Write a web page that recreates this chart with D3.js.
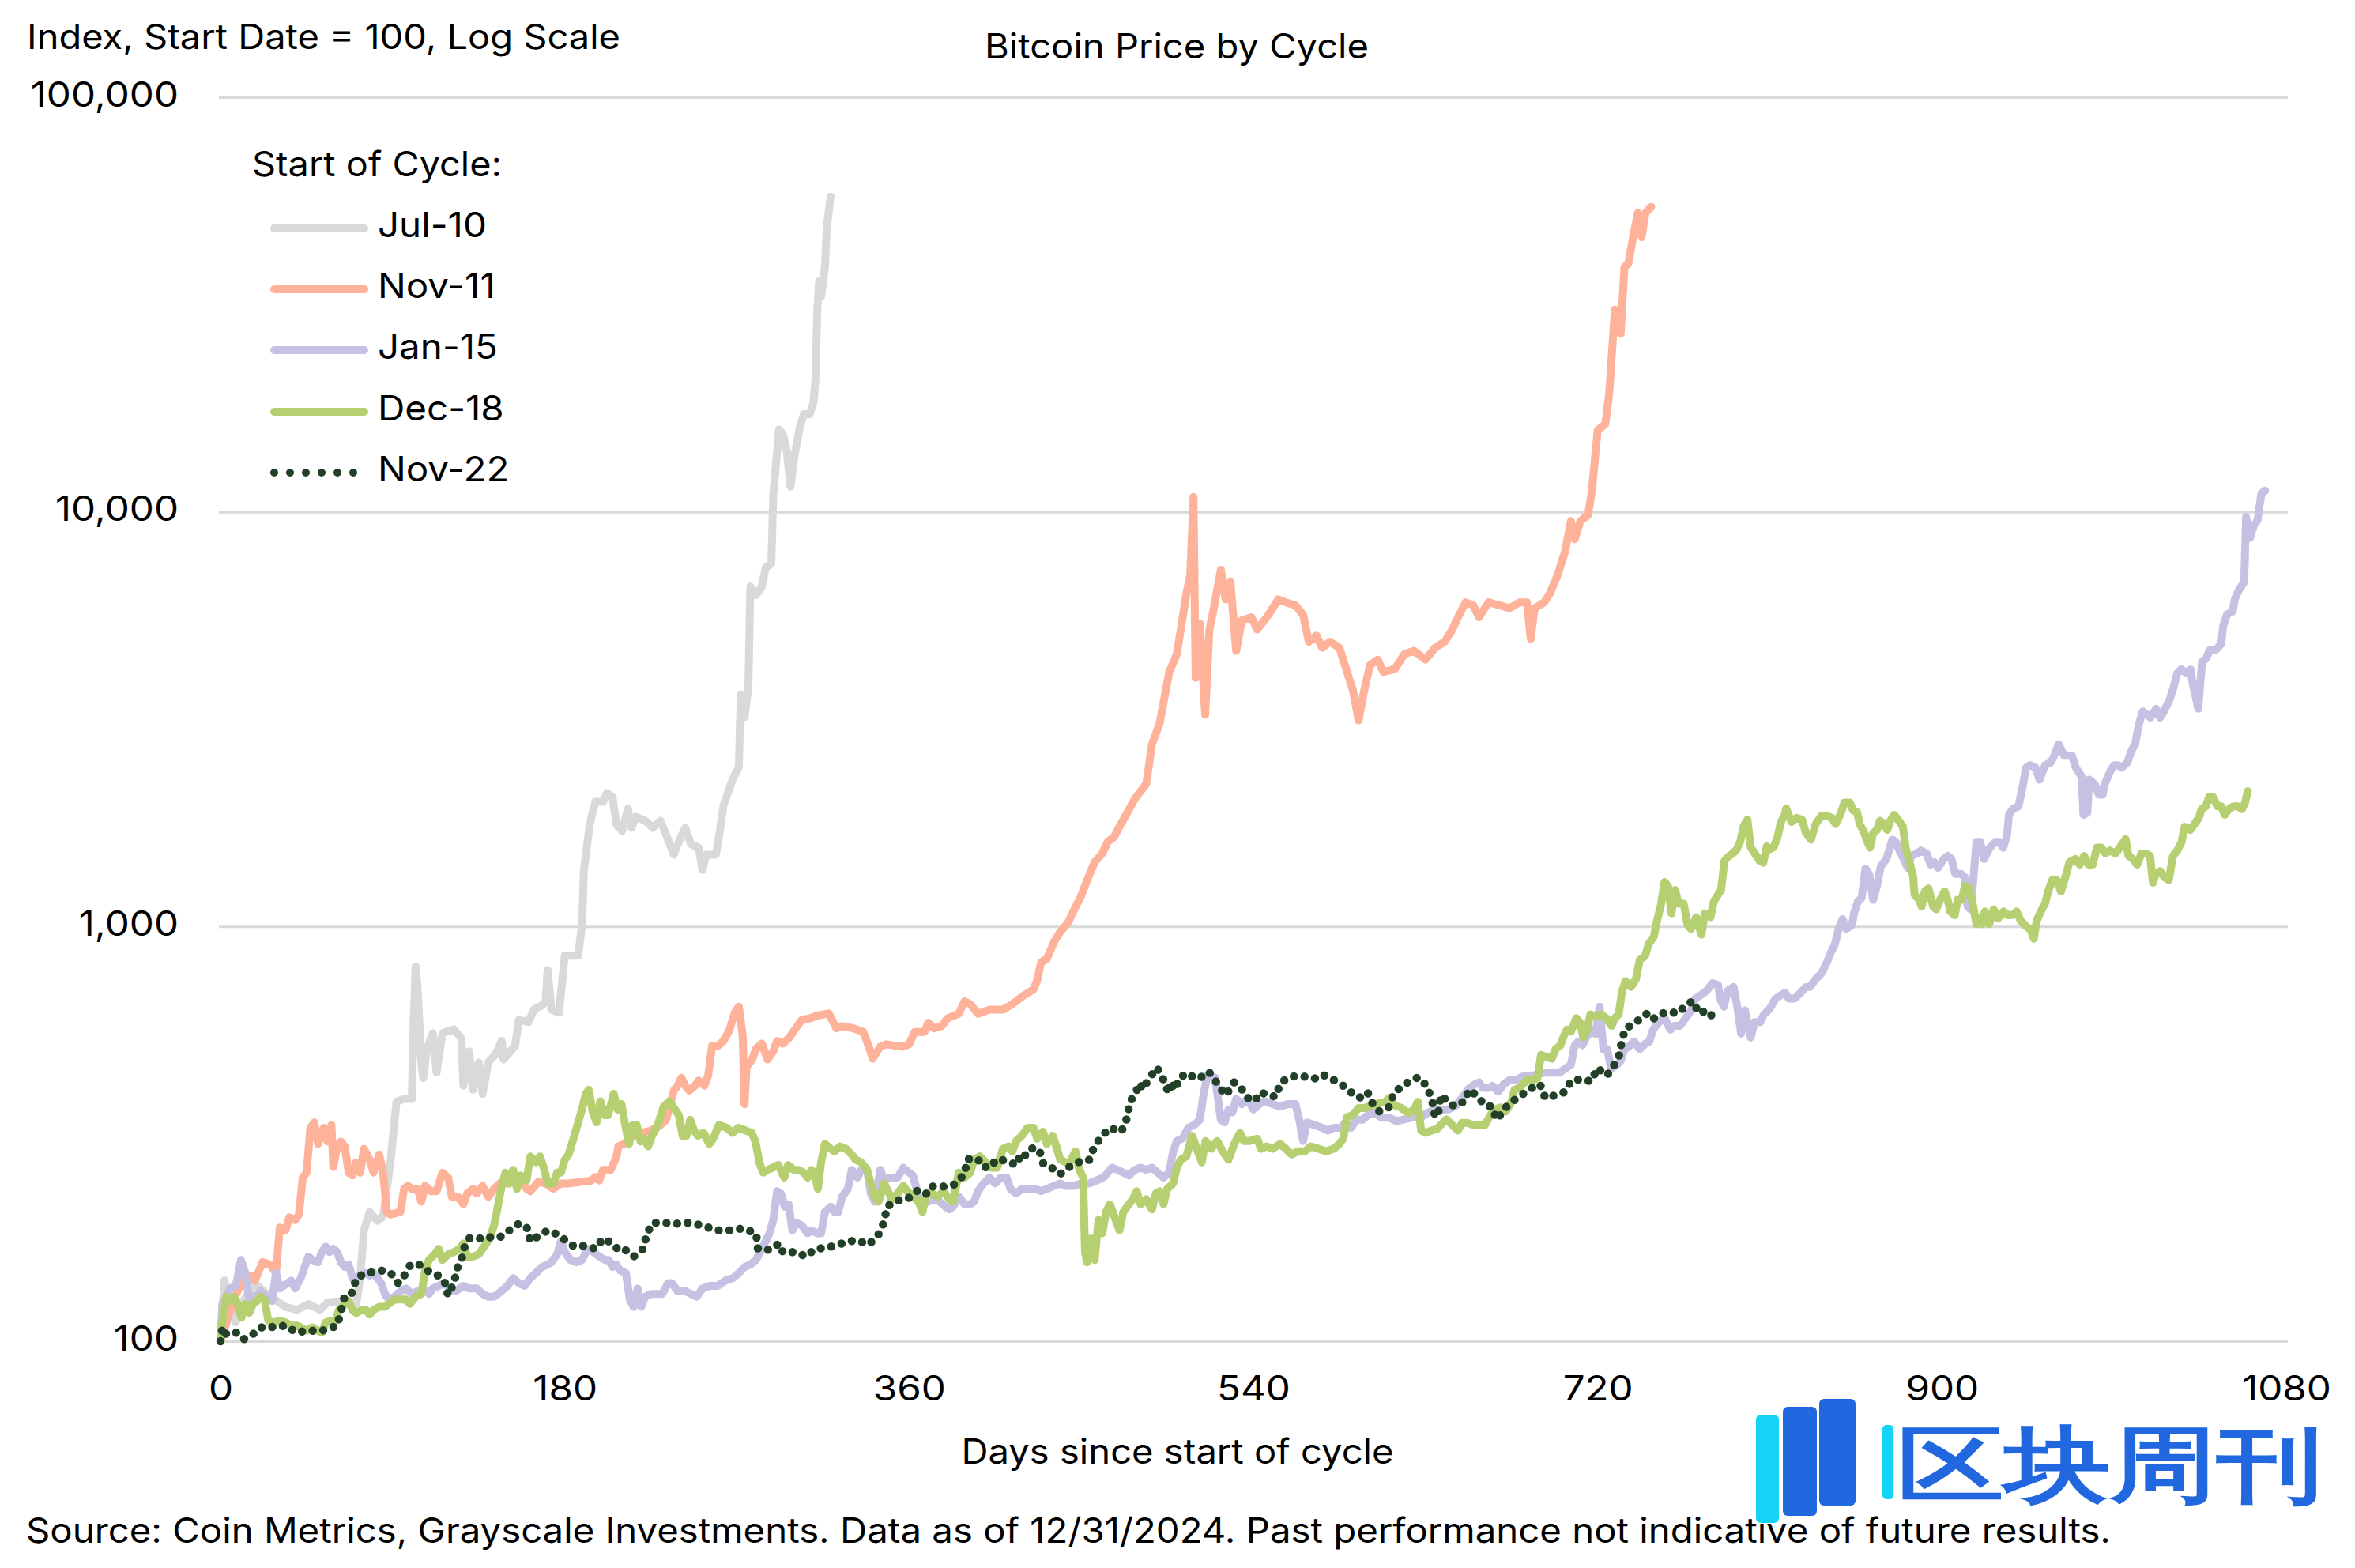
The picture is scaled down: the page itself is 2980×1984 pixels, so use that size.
<!DOCTYPE html>
<html><head><meta charset="utf-8">
<script src="https://cdn.jsdelivr.net/npm/d3@7"></script>
<style>
html,body{margin:0;padding:0;background:#fff;}
svg{display:block;}
text{font-family:Inter,"Noto Sans",sans-serif;fill:#000;}
</style>
</head><body>
<svg id="chart" width="2980" height="1984"></svg>
<script>
// ---------- DATA (day since start of cycle, index value; start = 100) ----------
const seriesNames = ["Jul-10", "Nov-11", "Jan-15", "Dec-18", "Nov-22"];
const seriesColors = ["#d9d9d9", "#feb299", "#c6c0e3", "#b6cf70", "#223f27"];

const jul10 = [[0,100],[2,140],[5,123],[8,111],[11,123],[18,138],[24,130],[34,121],[40,119],[46,123],[52,119],[56,124],[64,125],[71,123],[73,142],[75,185],[78,205],[82,195],[85,200],[89,274],[92,378],[96,384],[100,384],[101,600],[102,800],[103,720],[105,470],[106,431],[108,507],[111,553],[113,444],[116,553],[122,565],[126,537],[127,413],[130,500],[132,404],[135,470],[137,395],[140,470],[144,493],[147,530],[148,478],[154,515],[156,596],[161,588],[164,632],[168,645],[170,660],[171,785],[173,630],[177,620],[180,850],[184,850],[187,850],[189,1010],[190,1365],[193,1760],[196,2000],[200,2000],[202,2100],[205,2050],[207,1760],[210,1700],[213,1920],[215,1730],[217,1840],[222,1800],[226,1730],[230,1800],[234,1620],[237,1490],[239,1580],[243,1730],[246,1580],[250,1550],[252,1370],[254,1490],[259,1490],[261,1690],[263,1960],[268,2280],[271,2420],[272,3630],[274,3200],[276,3800],[277,6600],[280,6300],[283,6600],[285,7330],[288,7500],[289,11000],[292,15800],[294,15400],[296,14100],[298,11500],[300,13600],[303,16100],[305,17200],[308,17200],[310,18300],[311,20800],[312,30500],[313,36000],[314,33000],[316,39000],[317,48700],[319,57600]];

const nov11 = [[0,100],[4,114],[6,123],[12,142],[16,144],[18,140],[22,155],[26,153],[29,146],[31,188],[34,185],[36,199],[39,196],[41,202],[43,248],[45,255],[47,327],[49,337],[51,299],[54,327],[56,303],[58,332],[59,263],[61,295],[63,303],[65,295],[67,255],[69,251],[71,270],[73,255],[75,291],[78,274],[80,255],[83,282],[85,255],[87,205],[89,202],[94,205],[96,233],[98,237],[100,233],[103,233],[105,217],[107,237],[110,230],[113,230],[116,255],[119,248],[121,223],[124,223],[127,214],[129,227],[132,233],[134,227],[137,237],[140,223],[143,233],[146,240],[150,240],[154,251],[157,248],[160,233],[162,230],[166,242],[170,240],[174,233],[178,240],[182,240],[188,242],[194,244],[196,249],[198,244],[200,259],[204,259],[207,278],[208,295],[211,299],[216,313],[220,318],[225,322],[230,332],[233,342],[237,402],[239,413],[241,432],[243,413],[245,402],[248,413],[250,425],[253,413],[255,438],[257,515],[260,515],[263,530],[266,562],[269,622],[271,641],[273,546],[274,373],[275,458],[278,478],[280,507],[283,522],[286,478],[289,500],[291,530],[294,522],[297,537],[300,562],[304,596],[308,600],[312,610],[318,617],[322,568],[325,575],[331,568],[336,557],[339,513],[341,480],[345,513],[348,520],[357,513],[360,520],[363,557],[368,557],[370,586],[373,568],[377,575],[380,600],[386,616],[389,660],[392,650],[396,616],[402,630],[409,630],[414,650],[420,682],[425,705],[427,742],[429,820],[432,835],[436,922],[439,970],[443,1020],[446,1090],[450,1187],[453,1290],[457,1429],[461,1500],[464,1605],[467,1640],[471,1775],[478,2030],[484,2210],[487,2750],[491,3090],[496,4110],[500,4540],[505,6350],[507,7030],[508.7,10870],[509.8,3980],[512,5370],[514.8,3240],[517,5200],[519,5750],[523,7250],[525.5,6150],[528,6800],[531,4620],[534,5480],[539,5570],[542,5200],[548,5650],[553,6150],[557,6050],[562,5950],[566,5650],[569,4860],[573,5030],[576,4700],[580,4860],[585,4700],[589,4110],[592,3720],[595,3140],[598,3720],[601,4270],[605,4400],[608,4110],[614,4180],[619,4540],[624,4620],[630,4400],[635,4700],[640,4860],[644,5200],[647,5570],[651,6050],[655,5950],[658,5570],[663,6050],[669,5950],[674,5850],[679,6050],[683,6050],[685,4940],[687,5850],[692,6050],[695,6350],[699,7030],[703,8040],[706,9500],[708,8590],[711,9500],[715,9830],[717,11250],[720,15740],[724,16290],[726,19230],[729,30760],[732,26900],[734,38900],[736,39700],[738,44600],[741,52600],[743,46000],[745,52600],[748,54400]];

const jan15 = [[0,100],[1,123],[5,134],[8,136],[10.7,157],[13,146],[15,126],[18,128],[21,132],[24,128],[27,125],[29,146],[31,134],[33,136],[37,140],[39,134],[42,142],[44,151],[46,160],[48,157],[51,155],[53,164],[55,169],[57,164],[59,167],[61,164],[63,155],[65,151],[67,153],[69,142],[71,142],[73,144],[76,146],[78,144],[80,146],[82,142],[84,138],[86,130],[88,126],[91,128],[94,132],[97,134],[100,130],[103,132],[106,134],[109,130],[111,134],[114,136],[117,138],[120,134],[123,132],[127,136],[130,134],[134,134],[137,130],[140,128],[143,128],[146,131],[150,136],[153,142],[156,138],[159,136],[162,142],[165,146],[168,151],[171,153],[173,155],[176,162],[178,174],[180,164],[183,157],[186,155],[189,157],[192,167],[195,164],[198,160],[201,157],[203,157],[205,151],[207,153],[209,148],[212,146],[214,126],[216,121],[218,134],[220,121],[222,128],[225,130],[228,130],[231,130],[234,138],[236,138],[239,132],[243,132],[246,130],[249,128],[252,134],[256,136],[260,136],[264,140],[268,142],[271,146],[274,151],[277,153],[280,157],[283,167],[285,174],[287,182],[289,196],[291,230],[293,227],[295,211],[297,214],[299,185],[301,193],[304,190],[307,182],[309,185],[312,182],[314,182],[316,205],[319,211],[321,205],[323,205],[325,223],[328,233],[330,259],[333,248],[335,259],[338,259],[340,227],[342,217],[345,259],[347,244],[350,248],[354,248],[357,262],[360,255],[362,251],[365,223],[367,214],[370,217],[373,220],[376,217],[379,211],[381,208],[383,211],[386,223],[389,214],[392,214],[394,217],[396,230],[399,240],[402,248],[405,240],[408,248],[411,248],[413,233],[416,227],[419,233],[422,233],[426,233],[429,230],[432,233],[436,237],[439,240],[442,237],[446,237],[450,240],[454,240],[458,244],[462,249],[466,262],[469,259],[472,255],[475,251],[478,259],[481,262],[484,259],[487,262],[490,255],[493,248],[496,255],[498,286],[500,304],[503,308],[506,327],[509,332],[512,342],[514,395],[516,438],[520,432],[523,342],[525,337],[527,362],[529,356],[531,384],[534,373],[537,384],[540,362],[543,373],[546,379],[550,373],[554,368],[558,373],[562,373],[564,342],[566,304],[568,337],[572,332],[576,327],[579,322],[582,327],[586,327],[588,337],[591,327],[594,342],[597,342],[600,351],[603,356],[607,346],[611,346],[615,339],[619,343],[624,347],[628,347],[631,355],[635,362],[639,362],[642,362],[646,370],[650,391],[653,408],[656,417],[658,421],[660,408],[663,408],[665,413],[668,400],[671,417],[674,426],[677,426],[681,435],[685,435],[688,440],[692,444],[696,444],[700,444],[703,454],[706,464],[708,517],[710,528],[712,517],[714,540],[717,564],[719,550],[721,641],[723,506],[725,506],[727,454],[730,464],[732,474],[734,506],[736,512],[739,528],[742,506],[745,522],[747,528],[749,564],[752,588],[755,601],[758,564],[760,576],[763,576],[766,601],[769,628],[771,670],[774,684],[777,700],[780,730],[783,722],[784,670],[786,641],[788,700],[791,715],[793,641],[795,552],[797,628],[800,540],[802,588],[805,588],[807,614],[810,634],[813,670],[816,684],[818,692],[820,670],[823,670],[826,692],[829,715],[831,715],[834,747],[837,771],[840,822],[842,867],[844,906],[846,987],[848,1042],[850,987],[853,1009],[854,1076],[856,1148],[858,1172],[860,1380],[862,1335],[864,1160],[866,1252],[868,1395],[871,1455],[874,1620],[876,1600],[877,1550],[880,1455],[882,1385],[884,1480],[887,1500],[889,1525],[892,1500],[894,1410],[896,1430],[898,1385],[901,1455],[903,1480],[905,1455],[907,1340],[910,1340],[912,1315],[913.4,1117],[915,1100],[916.4,1295],[918,1600],[920,1600],[922,1455],[925,1550],[928,1600],[930,1600],[932,1550],[934,1655],[935,1860],[937,1920],[940,1950],[942,2150],[944,2415],[946,2450],[949,2415],[951,2260],[954,2450],[957,2490],[959,2600],[961,2750],[964,2580],[966,2580],[968,2580],[970,2415],[973,2300],[974,1860],[976,1880],[977,2260],[980,2200],[982,2080],[984,2080],[985,2200],[988,2370],[990,2450],[992,2450],[994,2415],[997,2490],[999,2650],[1001,2750],[1003,3080],[1005,3300],[1007,3250],[1009,3190],[1012,3350],[1014,3190],[1016,3300],[1019,3520],[1021,3760],[1023,4080],[1025,4170],[1028,4080],[1030,4170],[1031,3880],[1033,3520],[1034,3350],[1036,4350],[1038,4420],[1040,4640],[1043,4640],[1046,4800],[1047,5300],[1049,5660],[1052,5750],[1053,6130],[1055,6450],[1058,6770],[1059,9710],[1061,8650],[1063,9250],[1065,9550],[1067,11070],[1069,11250]];

const dec18 = [[0,100],[1,112],[3,128],[5,125],[7,128],[9,123],[11,114],[13,123],[15,117],[17,123],[19,125],[21,128],[23,126],[25,112],[28,111],[31,112],[34,111],[37,109],[40,109],[42,108],[45,106],[48,108],[51,106],[53,105],[55,111],[58,112],[60,112],[62,119],[65,123],[67,125],[69,119],[71,117],[74,119],[76,119],[78,116],[80,119],[83,121],[86,121],[88,123],[91,126],[94,126],[97,126],[99,123],[102,128],[105,130],[107,148],[109,157],[112,162],[114,167],[116,157],[119,162],[122,164],[125,167],[127,172],[129,160],[132,160],[135,162],[137,167],[139,172],[141,179],[143,190],[145,211],[147,237],[149,255],[151,240],[153,259],[155,233],[157,251],[160,244],[162,279],[165,270],[167,279],[169,262],[171,240],[174,240],[176,255],[178,255],[180,274],[182,282],[185,313],[187,337],[189,362],[191,395],[192.5,404],[194.6,357],[196.6,337],[198.6,379],[200.6,351],[202.6,351],[204.6,379],[205.6,395],[207.6,362],[209.6,373],[211.6,332],[213.6,299],[215.6,332],[217.6,332],[219.6,303],[221.6,308],[223.6,295],[225.6,313],[228.6,332],[231.6,367],[234.6,379],[237.6,362],[239.6,351],[241.6,313],[243.6,313],[245.6,342],[247.6,322],[249.6,313],[252.6,318],[255.6,299],[257.6,308],[260.6,332],[264.7,327],[267.7,318],[270.7,327],[274.7,322],[277.7,318],[279.7,303],[281.7,270],[283.7,255],[286,259],[288.7,262],[291.7,266],[294.7,248],[296.7,266],[299.7,259],[302,259],[305,255],[307,248],[309,259],[311,248],[312.3,233],[314,270],[316,299],[319,291],[321,287],[324,295],[327,291],[330,282],[332,274],[335,270],[338,259],[340,240],[342,223],[344,217],[347,240],[349,230],[351,220],[354,227],[357,237],[359,230],[362,223],[365,217],[367,205],[369,227],[372,227],[375,223],[378,230],[381,220],[383,217],[386,255],[389,248],[392,255],[394,274],[397,279],[400,270],[403,262],[406,262],[409,291],[412,295],[414,287],[416,304],[419,313],[422,327],[425,327],[427,308],[430,320],[432,299],[435,313],[437,295],[439,274],[442,270],[444,270],[447,287],[449,259],[451,248],[452,164],[453,155],[455,177],[457,157],[459,196],[461,182],[463,205],[465,214],[467,202],[470,185],[472,205],[474,211],[477,220],[479,230],[481,214],[484,220],[487,208],[489,227],[491,230],[493,214],[495,233],[498,240],[500,262],[502,274],[505,279],[508,313],[510,295],[513,270],[515,304],[518,291],[521,304],[524,287],[527,274],[530,299],[533,318],[535,304],[538,304],[542,308],[544,291],[547,295],[550,291],[554,299],[557,291],[560,282],[563,287],[567,287],[570,295],[574,291],[578,287],[582,291],[585,299],[587,308],[589,347],[592,351],[595,365],[598,365],[602,370],[605,374],[609,378],[611,386],[614,370],[617,366],[621,355],[624,362],[626,378],[627.7,322],[630,318],[633,322],[636,325],[639,336],[641,343],[644,332],[647,322],[649,336],[652,336],[655,332],[658,332],[661,332],[664,351],[666,362],[669,366],[672,358],[675,378],[676.5,404],[679,408],[683,426],[686,426],[688.5,430],[690.4,490],[693,485],[696,480],[698,506],[700.5,517],[702.4,546],[704,564],[706,558],[708.8,601],[710.7,588],[712.5,540],[714.4,564],[716.2,614],[719,607],[721.7,614],[724.5,601],[727.3,576],[729,601],[731,614],[732.8,700],[734.6,738],[737.4,715],[740,747],[742,831],[744.8,849],[746.6,906],[749.4,946],[751,1031],[753,1123],[755,1280],[756.8,1250],[758.6,1076],[760.5,1225],[762.3,1135],[765,1135],[767,1008],[768.8,987],[771.5,1053],[774.3,956],[776,1076],[779,1053],[780.7,1148],[782.6,1186],[784.5,1225],[786.3,1440],[788,1470],[791,1505],[792.7,1535],[794.6,1605],[796.4,1750],[798.3,1810],[800,1553],[802,1505],[804.7,1440],[806.6,1425],[808.4,1560],[810,1535],[812,1553],[814,1640],[815.8,1787],[817.6,1850],[818.6,1926],[821.3,1787],[824,1828],[826.9,1810],[828.7,1690],[831.5,1620],[834,1767],[837,1850],[839.8,1850],[842.5,1828],[844.4,1767],[847,1870],[849,1990],[851.8,1990],[853.6,1905],[855.6,1888],[857,1765],[859,1700],[861,1600],[862.4,1550],[864,1680],[866,1710],[867.6,1800],[870,1765],[871.4,1710],[873,1800],[875,1860],[877.4,1800],[879.6,1740],[881,1550],[883.4,1410],[885,1315],[885.6,1195],[888,1160],[889.4,1117],[891,1215],[893,1235],[895.4,1117],[897,1100],[899,1160],[901.4,1215],[903,1160],[904.4,1087],[906.7,1065],[908.2,1160],[910.4,1160],[912,1255],[914.2,1235],[916.4,1117],[918,1013],[919.4,1045],[921,1013],[922.4,1087],[924.7,1013],[927,1100],[929.2,1045],[932.2,1087],[934.5,1065],[936.7,1065],[939,1087],[941.2,1032],[944.2,1000],[946.5,981],[948,935],[949.5,1032],[951.7,1087],[954,1140],[955.5,1215],[957.7,1295],[960,1295],[962.2,1215],[964.5,1315],[966.7,1430],[969.7,1455],[972,1410],[974.3,1480],[976.5,1410],[978.8,1410],[981,1550],[983.3,1550],[985.5,1500],[987.8,1525],[990.8,1500],[993.8,1570],[996,1625],[997.5,1480],[999.8,1455],[1002,1410],[1004.3,1500],[1006.5,1500],[1008.8,1480],[1010.3,1275],[1011.8,1340],[1014,1360],[1016.3,1315],[1018.6,1295],[1020.8,1480],[1023,1525],[1025.3,1600],[1026.8,1740],[1029.8,1710],[1032,1765],[1034.3,1830],[1035.8,1920],[1038,1950],[1039.6,2050],[1041.8,2050],[1044,1950],[1046,1950],[1047.8,1860],[1050,1920],[1052.4,1950],[1054.6,1950],[1056.9,1920],[1058.4,1985],[1059.9,2120]];

const nov22 = [[0,100],[1,108],[3,104],[8,105],[12,101],[17,104],[21,108],[26,108],[32,109],[36,108],[39,105],[46,106],[53,106],[61,109],[63,118],[65,129],[69,131],[71,142],[76,146],[81,147],[84,148],[89,146],[93,138],[97,146],[99,152],[103,154],[108,148],[112,146],[117,140],[119,129],[122,138],[124,151],[126,157],[128,172],[130,177],[134,178],[137,176],[141,178],[146,178],[151,185],[156,192],[160,189],[162,174],[166,179],[171,185],[175,182],[179,177],[185,169],[191,170],[196,167],[200,177],[205,172],[208,166],[211,167],[216,160],[221,167],[223,182],[226,193],[232,193],[238,192],[244,193],[248,192],[255,188],[260,185],[266,185],[273,187],[280,182],[281,167],[287,166],[292,172],[294,164],[301,164],[306,160],[311,167],[317,168],[323,171],[328,174],[333,175],[339,171],[344,181],[347,194],[348.4,211],[353,218],[359,220],[365,232],[369,227],[371,236],[375,236],[378,236],[384,239],[389,253],[390.4,275],[396,275],[398,264],[402,262],[406,275],[411,272],[416,266],[419,285],[421,280],[424.5,292],[428,290],[430,269],[434.5,262],[439,253],[443,262],[448,270],[454,273],[457,296],[461,313],[465,327],[471,320],[474,346],[475.4,377],[478,395],[481,419],[482,405],[486,433],[489.6,457],[492.8,429],[495.8,396],[497,423],[499,404],[501.6,433],[506,443],[509,431],[512,431],[516.6,447],[519.6,429],[522.6,408],[525.6,392],[530,421],[535,401],[538,381],[541,381],[544,399],[547.6,391],[552,389],[553.7,415],[557,429],[560,435],[566,435],[572,430],[576,440],[581,429],[587,413],[592,395],[595.4,386],[599.6,399],[602.8,370],[606,358],[610.7,366],[613.5,397],[617.5,411],[621.6,424],[626.2,433],[630.8,412],[633.6,378],[635,347],[637,360],[638,392],[641.9,377],[645.4,368],[650.7,380],[652.6,404],[656.6,392],[661.2,370],[664.6,368],[667.3,342],[671.6,365],[675.3,378],[679.3,390],[684.8,406],[689.8,417],[692.6,386],[698.7,393],[702.7,399],[706.4,426],[712,428],[716.6,423],[719.9,456],[724.7,437],[727.8,456],[731.3,490],[732.8,535],[734.6,568],[736.9,576],[742,597],[746,618],[748.8,598],[753.5,617],[757.7,623],[762,617],[765.4,641],[769.7,662],[773,617],[777.4,628],[781.1,597]];

const seriesData = [jul10, nov11, jan15, dec18, nov22];
const xTicks = [0, 180, 360, 540, 720, 900, 1080];
const yTicks = [100, 1000, 10000, 100000];

const chartTitle = "Bitcoin Price by Cycle";
const yTitle = "Index, Start Date = 100, Log Scale";
const xTitle = "Days since start of cycle";
const legendTitle = "Start of Cycle:";
const sourceNote = "Source: Coin Metrics, Grayscale Investments. Data as of 12/31/2024. Past performance not indicative of future results.";
const watermark = "区块周刊";

// ---------- DRAW ----------
const svg = d3.select("#chart");
svg.append("rect").attr("width", 2980).attr("height", 1984).attr("fill", "#fff");

const x = d3.scaleLinear().domain([0, 1080]).range([279, 2893]);
const y = d3.scaleLog().domain([100, 100000]).range([1697, 123]);
const FS = 44;

// widen a text element horizontally (reference face is wider than Inter)
function widen(sel, k) {
  sel.each(function () {
    const w = this.getComputedTextLength();
    d3.select(this).attr("textLength", w * k).attr("lengthAdjust", "spacingAndGlyphs");
  });
}

// Y axis with gridlines
const gY = svg.append("g").attr("transform", "translate(277,0)")
  .call(d3.axisLeft(y).tickValues(yTicks).tickFormat(d3.format(","))
    .tickSize(-(2895 - 277)).tickPadding(51));
gY.select(".domain").remove();
gY.selectAll(".tick line").attr("stroke", "#d9d9d9").attr("stroke-width", 3);
gY.selectAll(".tick text").attr("font-size", FS).attr("font-family", "Inter")
  .attr("fill", "#000").attr("dy", "0.25em");
widen(gY.selectAll(".tick text"), 1.12);

// X axis (labels only)
const gX = svg.append("g").attr("transform", "translate(0,1697)")
  .call(d3.axisBottom(x).tickValues(xTicks).tickFormat(d3.format("d"))
    .tickSize(0).tickPadding(44));
gX.select(".domain").remove();
gX.selectAll(".tick text").attr("font-size", FS).attr("font-family", "Inter")
  .attr("fill", "#000");
widen(gX.selectAll(".tick text"), 1.12);

// Lines
const line = d3.line().x(d => x(d[0])).y(d => y(d[1]));
seriesData.forEach((data, i) => {
  const p = svg.append("path").datum(data)
    .attr("d", line)
    .attr("fill", "none")
    .attr("stroke", seriesColors[i])
    .attr("stroke-linejoin", "round")
    .attr("stroke-linecap", "round");
  if (i === 4) {
    p.attr("stroke-width", 10.5).attr("stroke-dasharray", "0 13.5");
  } else {
    p.attr("stroke-width", 10);
  }
});

// Texts
svg.append("text").attr("x", 34).attr("y", 62).attr("font-size", FS)
  .attr("textLength", 751).attr("lengthAdjust", "spacingAndGlyphs").text(yTitle);
svg.append("text").attr("x", 1489).attr("y", 74).attr("font-size", FS)
  .attr("text-anchor", "middle").attr("textLength", 486).attr("lengthAdjust", "spacingAndGlyphs").text(chartTitle);
svg.append("text").attr("x", 1490).attr("y", 1852).attr("font-size", FS)
  .attr("text-anchor", "middle").attr("textLength", 547).attr("lengthAdjust", "spacingAndGlyphs").text(xTitle);
svg.append("text").attr("x", 33).attr("y", 1952).attr("font-size", FS)
  .attr("textLength", 2638).attr("lengthAdjust", "spacingAndGlyphs").text(sourceNote);

// Legend
const lg = svg.append("g");
lg.append("text").attr("x", 319).attr("y", 223).attr("font-size", FS)
  .attr("textLength", 316).attr("lengthAdjust", "spacingAndGlyphs").text(legendTitle);
const legendY = [289, 366, 443, 521, 598];
seriesNames.forEach((name, i) => {
  const ly = legendY[i];
  const l = lg.append("line").attr("x1", 347).attr("x2", i === 4 ? 452 : 461)
    .attr("y1", ly).attr("y2", ly)
    .attr("stroke", seriesColors[i]).attr("stroke-linecap", "round");
  if (i === 4) l.attr("stroke-width", 10).attr("stroke-dasharray", "0 20");
  else l.attr("stroke-width", 10);
  const t = lg.append("text").attr("x", 478).attr("y", ly + 11).attr("font-size", FS).text(name);
  widen(t, 1.08);
});

// Watermark
const wm = svg.append("g");
wm.append("rect").attr("x", 2222).attr("y", 1790).attr("width", 29).attr("height", 137).attr("rx", 6).attr("fill", "#14d3f6");
wm.append("rect").attr("x", 2256).attr("y", 1780).attr("width", 43).attr("height", 138).attr("rx", 6).attr("fill", "#2167df");
wm.append("rect").attr("x", 2302).attr("y", 1770).attr("width", 46).attr("height", 135).attr("rx", 6).attr("fill", "#2167df");
wm.append("rect").attr("x", 2382).attr("y", 1803).attr("width", 14).attr("height", 94).attr("rx", 5).attr("fill", "#14d3f6");
wm.append("text").attr("x", 2401).attr("y", 1890).attr("font-size", 105)
  .attr("font-family", "'Noto Sans CJK SC'").attr("font-weight", 700)
  .attr("textLength", 538).attr("lengthAdjust", "spacingAndGlyphs")
  .style("fill", "#2167df").text(watermark);
</script>
</body></html>
